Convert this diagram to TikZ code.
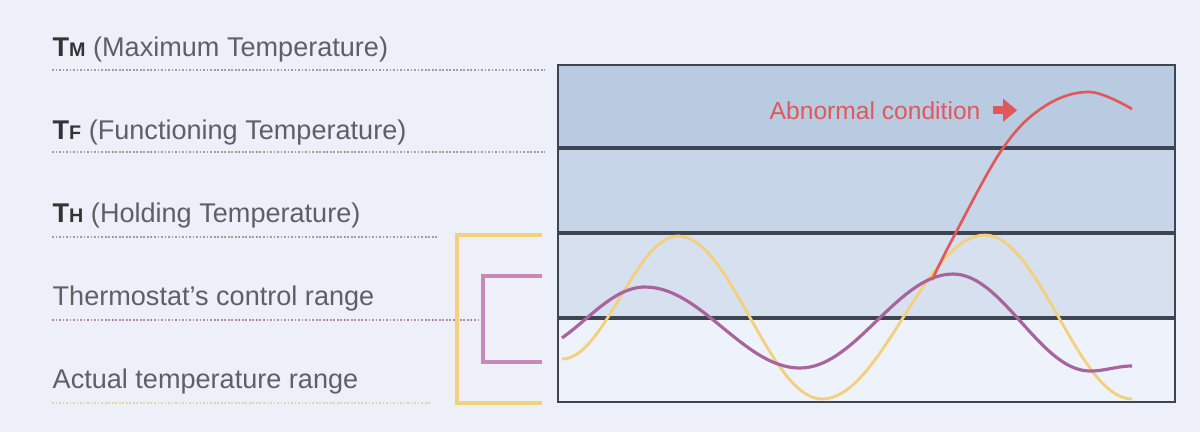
\documentclass[tikz,border=0pt]{standalone}
\usepackage{fontspec}
\setmainfont{Liberation Sans}
\usepackage{xcolor}
\usepackage{tikz}
\usetikzlibrary{arrows.meta}

\definecolor{bgcol}{HTML}{EDF0F8}
\definecolor{bandA}{HTML}{B9CBE0}
\definecolor{bandB}{HTML}{C7D5E8}
\definecolor{bandC}{HTML}{D7E0EE}
\definecolor{bandD}{HTML}{EEF2FA}
\definecolor{framecol}{HTML}{3E4550}
\definecolor{labelcol}{HTML}{5E6066}
\definecolor{ambercol}{HTML}{F2D07E}
\definecolor{mauvecol}{HTML}{A8649E}
\definecolor{pinkcol}{HTML}{C988B8}
\definecolor{alarmcol}{HTML}{E2575A}

\begin{document}
\begin{tikzpicture}[x=0.01cm, y=-0.01cm,
    lbl/.style={anchor=base west, inner sep=0pt, text=labelcol, font=\fontsize{7.7}{9}\selectfont},
    guide/.style={gray!75, line width=0.5pt, dash pattern=on 0.5pt off 0.5pt},
    band/.style={draw=framecol, line width=0.9pt}]
    \fill[bgcol] (0,0) rectangle (1200,432);

    % Left: level labels with dotted guides
    \node[lbl] (tm) at (52,56) {\textbf{\color{black!80}T{\fontsize{5.6}{6}\selectfont M}} (Maximum Temperature)};
    \node[lbl] (tf) at (52,139) {\textbf{\color{black!80}T{\fontsize{5.6}{6}\selectfont F}} (Functioning Temperature)};
    \node[lbl] (th) at (52,222) {\textbf{\color{black!80}T{\fontsize{5.6}{6}\selectfont H}} (Holding Temperature)};
    \node[lbl] (ctrl) at (52,305) {Thermostat's control range};
    \node[lbl] (actual) at (52,388) {Actual temperature range};
    \draw[guide] (52,70) -- (545,70);
    \draw[guide] (52,152) -- (545,152);
    \draw[guide] (52,237) -- (437,237);
    \draw[guide, pinkcol!70!gray] (52,320) -- (483,320);
    \draw[guide, ambercol!80!gray, opacity=0.6] (52,403) -- (430,403);

    % Brackets
    \draw[ambercol, line width=0.9pt] (542,235) -- (457,235) -- (457,403) -- (542,403);
    \draw[pinkcol, line width=1pt] (542,276) -- (483,276) -- (483,362) -- (542,362);

    % Right: banded chart
    \fill[bandA] (558,65) rectangle (1175,148);
    \fill[bandB] (558,148) rectangle (1175,233);
    \fill[bandC] (558,233) rectangle (1175,318);
    \fill[bandD] (558,318) rectangle (1175,402);
    \draw[band] (558,148) -- (1175,148);
    \draw[band] (558,233) -- (1175,233);
    \draw[band] (558,318) -- (1175,318);
    \draw[framecol, line width=0.8pt] (558,65) rectangle (1175,402);

    % Curves: half-cosine pieces between turning points
    \foreach \xa/\ya/\xb/\yb in {562/359/678/236, 678/236/822/399, 822/399/985/235, 985/235/1132/399}
        \draw[ambercol, line width=0.8pt] plot[domain=\xa:\xb, samples=30] (\x, {(\ya+\yb)/2+(\ya-\yb)/2*cos(180/(\xb-\xa)*(\x-\xa))});
    \foreach \xa/\ya/\xb/\yb in {525/352/645/287, 645/287/800/368, 800/368/953/274, 953/274/1090/371, 1090/371/1132/366}
        \draw[mauvecol, line width=0.9pt] plot[domain={max(\xa,562)}:\xb, samples=30] (\x, {(\ya+\yb)/2+(\ya-\yb)/2*cos(180/(\xb-\xa)*(\x-\xa))});
    \draw[alarmcol, line width=0.75pt] plot[smooth, tension=0.6] coordinates {(932,280) (953,238) (1003,148) (1045,106) (1090,92) (1132,109)};

    \node[lbl, text=alarmcol, font=\fontsize{7}{8}\selectfont] (abn) at (769,119) {Abnormal condition};
    \draw[alarmcol, line width=2.4pt, -{Triangle[length=0.14cm, width=0.22cm]}] ([xshift=0.12cm]abn.east) -- ++(24,0) coordinate (abntip);
\end{tikzpicture}
\end{document}
